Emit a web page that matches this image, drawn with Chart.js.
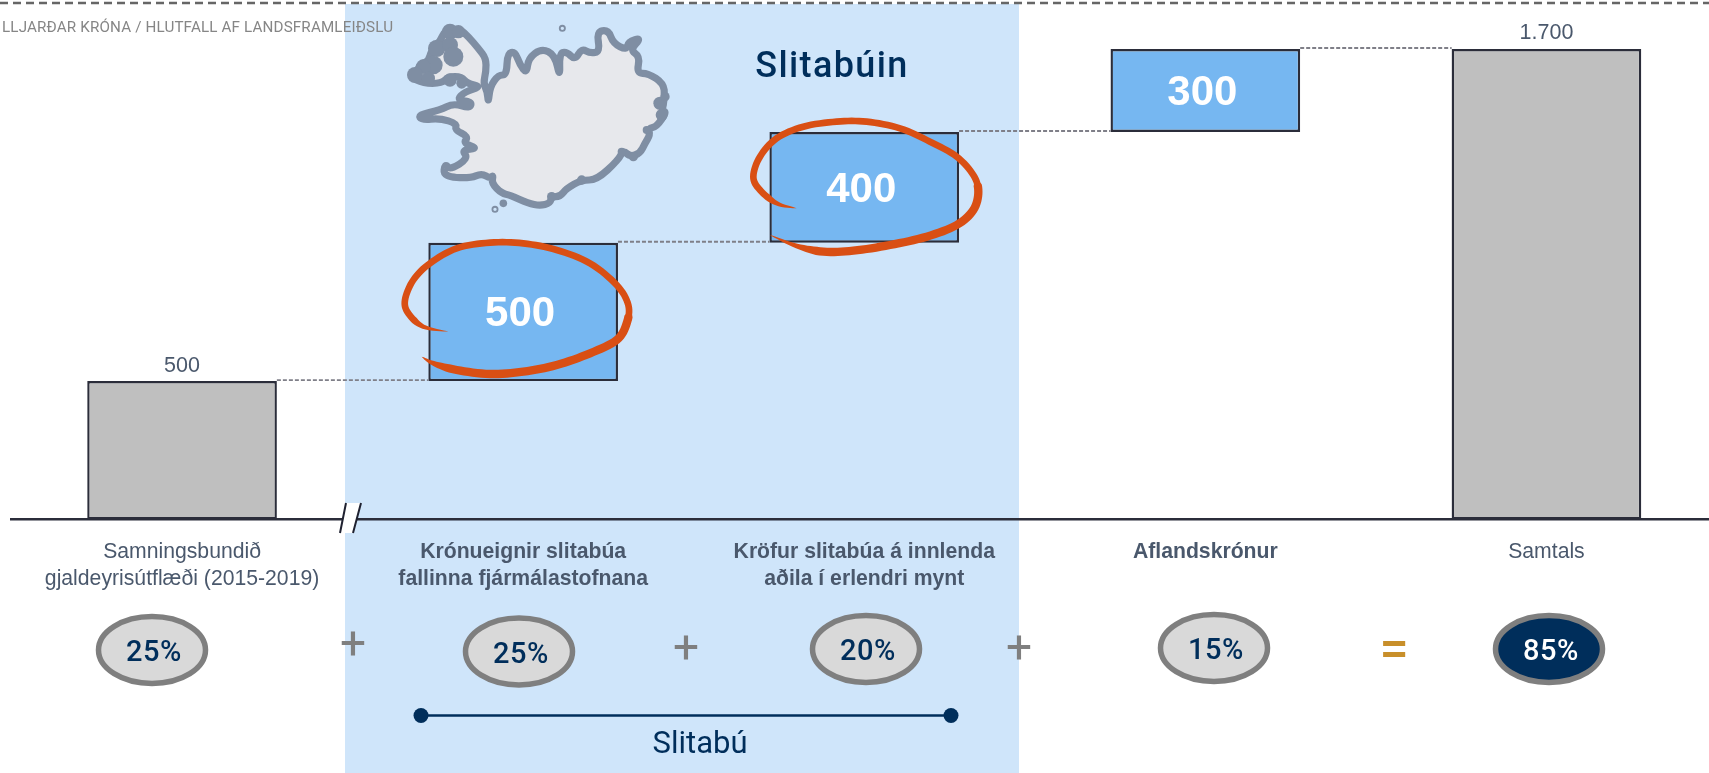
<!DOCTYPE html>
<html lang="is"><head><meta charset="utf-8">
<style>html,body{margin:0;padding:0;background:#fff;overflow:hidden;width:1709px;height:773px}canvas{display:block}</style>
<script src="https://cdn.jsdelivr.net/npm/chart.js@4/dist/chart.umd.min.js"></script>
</head><body><canvas id="c" width="1717" height="773" style="width:1717px;height:773px"></canvas>
<script>
const categories = [
  ['Samningsbundið','gjaldeyrisútflæði (2015-2019)'],
  ['Krónueignir slitabúa','fallinna fjármálastofnana'],
  ['Kröfur slitabúa á innlenda','aðila í erlendri mynt'],
  ['Aflandskrónur'],
  ['Samtals']
];
const barBottoms = [0, 500, 1000, 1400, 0];
const barTops = [500, 1000, 1400, 1700, 1700];
const valueLabels = ['500','500','400','300','1.700'];
const gdpShares = ['25%','25%','20%','15%','85%'];
const operators = ['+','+','+','='];
const boldCategory = [false,true,true,true,false];
const barColors = ['#bfbfbf','#76b7f1','#76b7f1','#76b7f1','#bfbfbf'];
const insideLabel = [false,true,true,true,false];
const unitTitle = 'LLJARÐAR KRÓNA / HLUTFALL AF LANDSFRAMLEIÐSLU';
const bandTitle = 'Slitabúin';
const bracketTitle = 'Slitabú';

const NAVY='#002e5b', DARK='#2b2d3a', TXT='#4a586c';
const coast=[[30,185],[50,172],[62,145],[85,140],[95,105],[120,80],[135,45],[180,42],[205,65],[235,100],[258,130],[258,170],[250,205],[262,230],[265,265],[270,215],[295,180],[320,180],[322,115],[345,110],[360,150],[380,175],[385,130],[425,100],[465,120],[480,190],[478,115],[500,110],[525,135],[545,100],[570,115],[600,110],[590,50],[625,45],[640,85],[680,105],[685,80],[725,68],[690,105],[720,125],[710,175],[745,175],[790,205],[795,245],[785,290],[800,290],[770,335],[745,340],[750,360],[735,385],[720,415],[690,425],[670,405],[655,435],[590,495],[545,495],[500,520],[480,545],[455,545],[450,565],[420,572],[385,565],[330,540],[305,535],[275,505],[280,480],[270,490],[245,475],[210,490],[130,485],[135,445],[150,465],[205,430],[185,405],[235,400],[190,385],[205,365],[165,345],[170,325],[120,310],[65,315],[55,300],[120,285],[160,265],[210,280],[215,260],[170,255],[195,230],[245,215],[200,205],[185,185],[145,185],[125,205],[70,205]];
const coastBlobs=[[150,50,24],[175,50,20],[110,100,26],[150,90,24],[160,125,30],[100,150,28],[70,155,22],[45,180,24],[85,190,20],[150,195,20],[185,205,16],[780,265,20],[785,300,18],[795,245,14],[665,410,12],[700,425,14],[740,345,12],[545,495,14],[455,545,14]];
const swash1=[[175,305],[100,290],[55,250],[45,210],[70,150],[120,100],[200,55],[300,38],[400,40],[500,60],[600,100],[680,165],[715,225],[710,280],[680,330],[600,370],[500,405],[400,425],[300,432],[200,420],[130,400],[95,380]];
const swash2=[[170,265],[110,250],[60,210],[40,170],[60,110],[110,55],[190,20],[290,5],[380,5],[480,25],[570,65],[650,110],[700,165],[715,215],[700,270],[650,315],[560,350],[450,375],[340,392],[250,395],[170,378],[90,345]];

function brush(ctx,pts,ox,oy){
  const P=[];
  const g=i=>pts[Math.max(0,Math.min(pts.length-1,i))];
  for(let i=0;i<pts.length-1;i++){const a=g(i-1),b=g(i),c=g(i+1),d=g(i+2);
    for(let k=0;k<8;k++){const t=k/8,t2=t*t,t3=t2*t;
      P.push([0,1].map(j=>.5*(2*b[j]+(c[j]-a[j])*t+(2*a[j]-5*b[j]+4*c[j]-d[j])*t2+(3*b[j]-a[j]-3*c[j]+d[j])*t3)));}}
  P.push(pts[pts.length-1]);
  const L=[],R=[],n=P.length-1;
  P.forEach((p,i)=>{const q=P[Math.min(n,i+1)],o=P[Math.max(0,i-1)];
    const dx=q[0]-o[0],dy=q[1]-o[1],m=Math.hypot(dx,dy)||1,s=i/n;
    const w=10*Math.min(1,s*14,(1-s)*12)*(s>.6?1.25:1);
    L.push([p[0]-dy/m*w,p[1]+dx/m*w]);R.push([p[0]+dy/m*w,p[1]-dx/m*w]);});
  ctx.beginPath();
  L.concat(R.reverse()).forEach((p,i)=>{const x=ox+p[0]/3,y=oy+p[1]/3;i?ctx.lineTo(x,y):ctx.moveTo(x,y);});
  ctx.closePath();ctx.fillStyle='#d94f14';ctx.fill();
}
function text(ctx,s,x,y,font,color,align='center',spacing='0px'){
  ctx.font=font;ctx.fillStyle=color;ctx.textAlign=align;ctx.textBaseline='alphabetic';ctx.letterSpacing=spacing;ctx.fillText(s,x,y);ctx.letterSpacing='0px';
}
const deco={id:'deco',
 beforeDraw(ch){const c=ch.ctx;c.save();
  c.fillStyle='#cfe5fa';c.fillRect(345,4,674,769);
  c.strokeStyle='#666';c.lineWidth=2.4;c.setLineDash([8,5]);c.beginPath();c.moveTo(0,3);c.lineTo(1717,3);c.stroke();c.setLineDash([]);
  text(c,unitTitle,2,31.5,'400 15.2px Roboto','#868686','left','0.15px');
  const X=p=>400+p/3,Y=p=>15+p/3;
  c.lineJoin='round';c.lineCap='round';c.beginPath();
  c.moveTo((X(coast[0][0])+X(coast[coast.length-1][0]))/2,(Y(coast[0][1])+Y(coast[coast.length-1][1]))/2);
  coast.forEach((p,i)=>{const q=coast[(i+1)%coast.length];c.quadraticCurveTo(X(p[0]),Y(p[1]),(X(p[0])+X(q[0]))/2,(Y(p[1])+Y(q[1]))/2);});
  c.closePath();c.fillStyle='#e7e8ec';c.fill();c.strokeStyle='#7f8ea3';c.lineWidth=7.2;c.stroke();
  c.fillStyle='#7f8ea3';
  coastBlobs.forEach(b=>{c.beginPath();c.arc(X(b[0]),Y(b[1]),b[2]/3,0,7);c.fill();});
  c.beginPath();c.arc(X(310),Y(565),3.8,0,7);c.fill();
  c.lineWidth=1.8;[[487,40],[285,583]].forEach(b=>{c.beginPath();c.arc(X(b[0]),Y(b[1]),2.6,0,7);c.stroke();});
  text(c,bandTitle,832,77,'500 36px Roboto',NAVY,'center','1.4px');
  c.restore();},
 afterDatasetsDraw(ch){const c=ch.ctx,bars=ch.getDatasetMeta(0).data,y=ch.scales.y;c.save();
  c.strokeStyle='#7f7f88';c.lineWidth=1.8;c.setLineDash([4,2]);
  for(let i=0;i<bars.length-1;i++){const v=y.getPixelForValue(barTops[i])-1;
    c.beginPath();c.moveTo(bars[i].x+bars[i].width/2,v);c.lineTo(bars[i+1].x-bars[i+1].width/2,v);c.stroke();}
  c.setLineDash([]);
  brush(c,swash1,390,230);brush(c,swash2,740,120);
  bars.forEach((b,i)=>{
    if(insideLabel[i]) text(c,valueLabels[i],b.x-3,y.getPixelForValue((barBottoms[i]+barTops[i])/2)+14.5,'bold 42px "Liberation Sans"','#fff');
    else text(c,valueLabels[i],b.x,y.getPixelForValue(barTops[i])-9.5,'21.5px "Liberation Sans"',TXT);
  });
  c.fillStyle='#fff';c.beginPath();c.moveTo(340,533);c.lineTo(345,503);c.lineTo(361,503);c.lineTo(353,533);c.closePath();c.fill();
  c.strokeStyle='#1f2130';c.lineWidth=2;c.beginPath();c.moveTo(340,533);c.lineTo(346,503);c.moveTo(353,533);c.lineTo(361,503);c.stroke();
  const cx=[152,519,866,1214,1549],cy=[650,651.5,649,648,649];
  gdpShares.forEach((s,i)=>{
    c.beginPath();c.ellipse(cx[i],cy[i],53.5,33.5,0,0,7);c.fillStyle=i===4?NAVY:'#d9d9d9';c.fill();
    c.strokeStyle='#7f7f7f';c.lineWidth=5.5;c.stroke();
    text(c,s,cx[i]+2,cy[i]+11,'500 29px Roboto',i===4?'#fff':NAVY,'center','0.6px');
  });
  const ox=[353,686,1019,1394],oy=[659,663,663,666];
  operators.forEach((s,i)=>text(c,s,ox[i],oy[i],s==='='?'500 52px Roboto':'400 46px Roboto',s==='='?'#c88f2a':'#7f7f7f'));
  c.strokeStyle=NAVY;c.lineWidth=2.5;c.beginPath();c.moveTo(421,715.5);c.lineTo(951,715.5);c.stroke();
  c.fillStyle=NAVY;[421,951].forEach(x=>{c.beginPath();c.arc(x,715.5,7.5,0,7);c.fill();});
  text(c,bracketTitle,700,753,'400 31px Roboto',NAVY);
  c.restore();}
};
new Chart(document.getElementById('c'),{
 type:'bar',
 data:{labels:categories,datasets:[{
   data:barBottoms.map((b,i)=>[b,barTops[i]]),
   backgroundColor:barColors,borderColor:DARK,borderWidth:2.4,borderSkipped:false,
   categoryPercentage:1,barPercentage:.556}]},
 plugins:[deco],
 options:{responsive:false,animation:false,
  layout:{padding:{left:11.5,right:0,top:0,bottom:0}},
  plugins:{legend:{display:false},title:{display:false},tooltip:{enabled:false}},
  scales:{
   y:{display:false,min:0,max:1877},
   x:{grid:{display:false,drawTicks:false},
      border:{color:DARK,width:2.5},
      afterFit(s){s.height=253.5;},
      ticks:{autoSkip:false,maxRotation:0,minRotation:0,padding:19.5,color:TXT,
        font:c=>({family:'"Liberation Sans"',size:21.2,lineHeight:1.27,weight:boldCategory[c.index]?'bold':'normal'})}}
  }}
});
</script></body></html>
